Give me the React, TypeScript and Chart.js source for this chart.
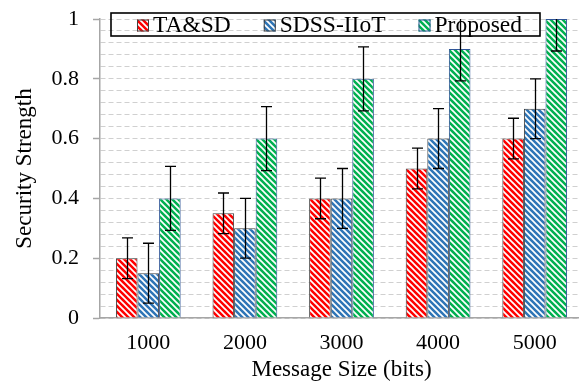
import React, { useEffect, useRef } from "react";
import { Chart, registerables } from "chart.js";

Chart.register(...registerables);

const categories = ["1000", "2000", "3000", "4000", "5000"];
const seriesNames = ["TA&SD", "SDSS-IIoT", "Proposed"];
const taValues = [0.2, 0.35, 0.4, 0.5, 0.6];
const sdssValues = [0.15, 0.3, 0.4, 0.6, 0.7];
const proposedValues = [0.4, 0.6, 0.8, 0.9, 1.0];
const taErrors = [0.068, 0.068, 0.068, 0.068, 0.068];
const sdssErrors = [0.1, 0.1, 0.1, 0.1, 0.1];
const proposedErrors = [0.107, 0.107, 0.107, 0.107, 0.107];
const yTickLabels = ["0", "0.2", "0.4", "0.6", "0.8", "1"];

const FONT = "'Liberation Serif', 'Times New Roman', serif";

function makePattern(color: string): CanvasPattern | string {
  const c = document.createElement("canvas");
  c.width = 6;
  c.height = 6;
  const g = c.getContext("2d");
  if (!g) return color;
  g.fillStyle = color;
  g.fillRect(0, 0, 6, 6);
  g.strokeStyle = "#ffffff";
  g.lineWidth = 1.7;
  for (const k of [-6, 0, 6]) {
    g.beginPath();
    g.moveTo(-2, -2 + k);
    g.lineTo(8, 8 + k);
    g.stroke();
  }
  const ctx = document.createElement("canvas").getContext("2d");
  const p = ctx ? ctx.createPattern(c, "repeat") : null;
  return p || color;
}

export default function App() {
  const ref = useRef<HTMLCanvasElement | null>(null);

  useEffect(() => {
    if (!ref.current) return;
    const colors = ["#FF0000", "#2E75B6", "#00B050"];
    const borders = ["#404040", "#404040", "#2F5597"];
    const values = [taValues, sdssValues, proposedValues];
    const errors = [taErrors, sdssErrors, proposedErrors];
    const patterns = colors.map((c) => makePattern(c));

    const overlay = {
      id: "legendAndErrors",
      afterDatasetsDraw(chart: any) {
        const ctx = chart.ctx as CanvasRenderingContext2D;
        const area = chart.chartArea;
        const yScale = chart.scales.y;
        // legend
        ctx.save();
        ctx.font = `23.5px ${FONT}`;
        ctx.textBaseline = "middle";
        ctx.fillStyle = "#000";
        const boxLeft = area.left + 11;
        const boxTop = area.top - 6;
        const boxH = 23;
        const padL = 26;
        const padR = 18;
        const gap = 33;
        const sq = 12;
        let x = boxLeft + padL;
        const cy = boxTop + boxH / 2 + 1;
        chart.data.datasets.forEach((ds: any, i: number) => {
          ctx.fillStyle = patterns[i] as any;
          ctx.fillRect(x, cy - sq / 2, sq, sq);
          ctx.strokeStyle = borders[i];
          ctx.lineWidth = 1;
          ctx.strokeRect(x + 0.5, cy - sq / 2 + 0.5, sq - 1, sq - 1);
          ctx.fillStyle = "#000";
          ctx.fillText(ds.label, x + sq + 4, cy);
          x += sq + 4 + ctx.measureText(ds.label).width + gap;
        });
        const boxW = x - gap + padR - boxLeft;
        ctx.strokeStyle = "#000";
        ctx.lineWidth = 1.6;
        ctx.strokeRect(boxLeft, boxTop, boxW, boxH);
        ctx.restore();

        // error bars
        ctx.save();
        ctx.beginPath();
        ctx.rect(area.left, area.top, area.right - area.left, area.bottom - area.top);
        ctx.clip();
        ctx.strokeStyle = "#000";
        ctx.lineWidth = 1.3;
        chart.data.datasets.forEach((_ds: any, i: number) => {
          const meta = chart.getDatasetMeta(i);
          meta.data.forEach((el: any, j: number) => {
            const v = values[i][j];
            const e = errors[i][j];
            const yt = yScale.getPixelForValue(v + e);
            const yb = yScale.getPixelForValue(v - e);
            const cx = Math.round(el.x) + 0.5;
            ctx.beginPath();
            ctx.moveTo(cx, yt);
            ctx.lineTo(cx, yb);
            ctx.moveTo(cx - 5.5, yt);
            ctx.lineTo(cx + 5.5, yt);
            ctx.moveTo(cx - 5.5, yb);
            ctx.lineTo(cx + 5.5, yb);
            ctx.stroke();
          });
        });
        ctx.restore();
      },
    };

    const isMajor = (v: number) => Math.round(v * 100) % 20 === 0;

    const chart = new Chart(ref.current, {
      type: "bar",
      data: {
        labels: categories,
        datasets: seriesNames.map((name, i) => ({
          label: name,
          data: values[i],
          backgroundColor: patterns[i] as any,
          borderColor: borders[i],
          borderWidth: 1,
          barPercentage: 1.0,
          categoryPercentage: 0.67,
        })),
      },
      options: {
        responsive: false,
        animation: false,
        layout: { padding: { left: 11, right: 9, top: 19, bottom: 8 } },
        plugins: {
          legend: { display: false },
          tooltip: { enabled: false },
        },
        scales: {
          x: {
            afterFit: (s: any) => {
              s.height = 66;
            },
            grid: { display: false, drawTicks: false },
            border: { display: true, color: "#A6A6A6", width: 1.5 },
            ticks: {
              color: "#000",
              font: { family: FONT, size: 22 },
              padding: 12,
            },
            title: {
              display: true,
              text: "Message Size (bits)",
              color: "#000",
              font: { family: FONT, size: 23 },
              padding: { top: 0, bottom: 0 },
            },
          },
          y: {
            min: 0,
            max: 1,
            afterFit: (s: any) => {
              s.width = 89;
              s.paddingTop = 0;
              s.paddingBottom = 0;
            },
            grid: {
              color: "#D0D0D0",
              lineWidth: 1,
              drawTicks: true,
              tickLength: 7,
              tickWidth: 1.5,
              tickColor: (c: any) =>
                c.tick && isMajor(c.tick.value) ? "#A6A6A6" : "rgba(0,0,0,0)",
            },
            border: { display: true, color: "#A6A6A6", width: 1.5, dash: [5, 3] },
            ticks: {
              stepSize: 0.04,
              maxTicksLimit: 30,
              autoSkip: false,
              color: "#000",
              font: { family: FONT, size: 22 },
              padding: 14,
              callback: (v: any) => {
                const k = Math.round(Number(v) * 100);
                return k % 20 === 0 ? yTickLabels[k / 20] : "";
              },
            },
            title: {
              display: true,
              text: "Security Strength",
              color: "#000",
              font: { family: FONT, size: 23 },
              padding: { top: 0, bottom: 0 },
            },
          },
        },
      },
      plugins: [overlay],
    });
    return () => chart.destroy();
  }, []);

  return (
    <div
      style={{
        position: "fixed",
        left: 0,
        top: 0,
        width: 579,
        height: 392,
        overflow: "hidden",
        background: "#fff",
      }}
    >
      <canvas ref={ref} width={592} height={392} style={{ display: "block" }} />
    </div>
  );
}
